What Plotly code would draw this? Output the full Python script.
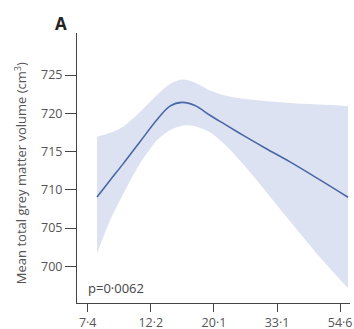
import math
import plotly.graph_objects as go

# Age (years, log scale) and mean total grey matter volume (cm3)
age = [7.954, 8.824, 9.781, 11.18, 12.79, 14.18, 15.60, 17.29, 19.47, 21.93, 25.70, 30.11, 36.71, 46.53, 58.13]
mean_vol = [709.07, 711.26, 713.39, 716.28, 719.16, 720.94, 721.43, 721.01, 719.74, 718.55, 716.98, 715.47, 713.65, 711.30, 709.03]
upper_ci = [716.92, 717.45, 718.25, 720.16, 722.38, 723.82, 724.41, 724.02, 722.97, 722.32, 721.86, 721.60, 721.36, 721.14, 720.94]
lower_ci = [701.70, 706.02, 709.42, 713.44, 716.49, 717.80, 718.39, 718.32, 717.54, 715.90, 713.09, 709.95, 705.89, 701.18, 697.12]

x_tickvals = [7.389, 12.18, 20.09, 33.12, 54.60]
x_ticktext = ["7·4", "12·2", "20·1", "33·1", "54·6"]
y_tickvals = [700, 705, 710, 715, 720, 725]

FONT = "Open Sans"
fill_col = "#dde2f2"
line_col = "#4a68a6"

fig = go.Figure()
fig.add_trace(go.Scatter(x=age, y=upper_ci, mode="lines", line=dict(width=0, shape="spline", smoothing=0.8),
                         showlegend=False, hoverinfo="skip"))
fig.add_trace(go.Scatter(x=age, y=lower_ci, mode="lines", line=dict(width=0, shape="spline", smoothing=0.8),
                         fill="tonexty", fillcolor=fill_col, showlegend=False, hoverinfo="skip"))
fig.add_trace(go.Scatter(x=age, y=mean_vol, mode="lines", line=dict(color=line_col, width=1.6, shape="spline"),
                         showlegend=False))

fig.update_layout(
    width=354, height=329,
    margin=dict(l=77, r=4, t=33, b=26, autoexpand=False),
    paper_bgcolor="white", plot_bgcolor="white",
    font=dict(family=FONT, size=12.5, color="#555"),
    xaxis=dict(type="log", range=[1.915 / math.log(10), 4.0785 / math.log(10)],
               tickvals=x_tickvals, ticktext=x_ticktext, automargin=False,
               showline=True, linecolor="#444", linewidth=1,
               ticks="outside", ticklen=8, tickcolor="#444",
               ticklabelstandoff=0,
               showgrid=False, zeroline=False,
               tickfont=dict(size=12.5, color="#555")),
    yaxis=dict(range=[695.2, 730.5], tickvals=y_tickvals, automargin=False,
               showline=True, linecolor="#444", linewidth=1,
               ticks="outside", ticklen=11, tickcolor="#444",
               showgrid=False, zeroline=False,
               tickfont=dict(size=12.5, color="#555")),
    annotations=[
        dict(text="Mean total grey matter volume (cm<sup>3</sup>)", textangle=-90,
             xref="paper", yref="paper", x=(20 - 77) / 273, y=0.481,
             xanchor="center", yanchor="middle", showarrow=False,
             font=dict(family=FONT, size=13, color="#555")),
        dict(text="<b>A</b>", xref="paper", yref="paper", x=(61 - 77) / 273, y=(302.7 - 24) / 269.7,
             xanchor="center", yanchor="middle", showarrow=False,
             font=dict(family=FONT, size=17, color="#222")),
        dict(text="p=0·0062", xref="paper", yref="paper", x=(86 - 77) / 273, y=(302.7 - 288) / 269.7,
             xanchor="left", yanchor="middle", showarrow=False,
             font=dict(family=FONT, size=13, color="#444")),
    ],
)

fig.write_html("out.html")
